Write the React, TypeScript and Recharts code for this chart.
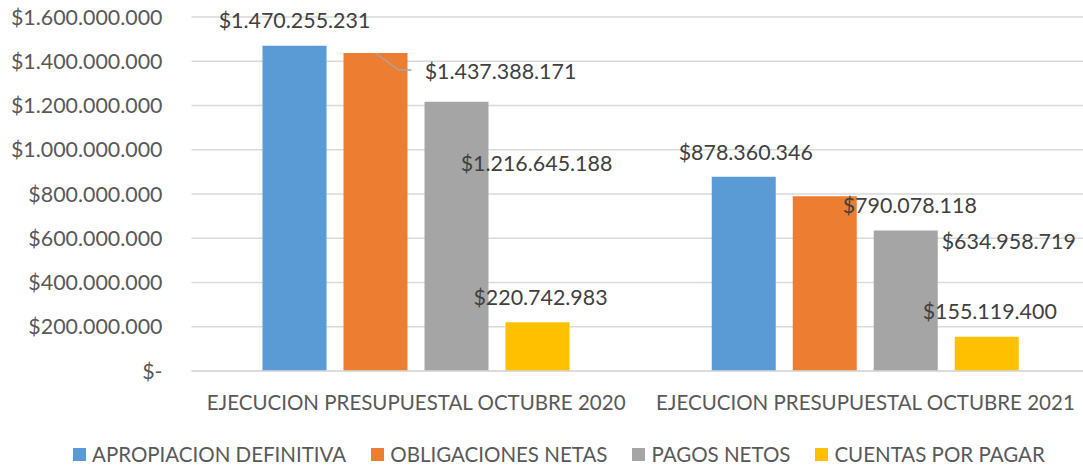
import React from "react";
import { BarChart, Bar, XAxis, YAxis, CartesianGrid, Legend, LabelList } from "recharts";

const categories = ["EJECUCION PRESUPUESTAL OCTUBRE 2020", "EJECUCION PRESUPUESTAL OCTUBRE 2021"];
const apropiacion = [1470255231, 878360346];
const obligaciones = [1437388171, 790078118];
const pagos = [1216645188, 634958719];
const cuentas = [220742983, 155119400];
const yTicks = [0, 200000000, 400000000, 600000000, 800000000, 1000000000, 1200000000, 1400000000, 1600000000];

const seriesNames = ["APROPIACION DEFINITIVA", "OBLIGACIONES NETAS", "PAGOS NETOS", "CUENTAS POR PAGAR"];
const seriesKeys = ["apropiacion", "obligaciones", "pagos", "cuentas"];
const seriesColors = ["#5B9BD5", "#ED7D31", "#A5A5A5", "#FFC000"];

// label offsets (dx from bar centre, dy from bar top) per series, per category
const labelOffsets = [
  [[0, -26], [2, -25]],
  [[125, 18], [85, 9]],
  [[80, 61], [103, 10]],
  [[3, -25], [3, -26]],
];
const leaderLines = [
  [false, false],
  [true, false],
  [false, false],
  [false, false],
];

const data = categories.map((c, i) => ({
  name: c,
  apropiacion: apropiacion[i],
  obligaciones: obligaciones[i],
  pagos: pagos[i],
  cuentas: cuentas[i],
}));

const FONT = "Lato, 'Noto Sans', sans-serif";
const NUM_SIZE = 21.4;
const TXT_SIZE = 20.5;
const fmt = (n: number) => String(Math.round(n)).replace(/\B(?=(\d{3})+(?!\d))/g, ".");
const yFmt = (v: number) => (v === 0 ? "$-" : "$" + fmt(v));

const makeLabel = (si: number) => (props: any) => {
  const { x, y, width, value, index } = props;
  const [dx, dy] = labelOffsets[si][index];
  const cx = Number(x) + Number(width) / 2;
  const top = Number(y);
  const tx = cx + dx;
  const ty = top + dy;
  return (
    <g>
      {leaderLines[si][index] && (
        <polyline
          points={`${cx},${top} ${cx + 23},${top + 17} ${cx + 36},${top + 17}`}
          fill="none"
          stroke="#A6A6A6"
          strokeWidth={1.3}
        />
      )}
      <text
        x={tx}
        y={ty}
        textAnchor="middle"
        dominantBaseline="central"
        fill="#404040"
        fontSize={NUM_SIZE}
        fontFamily={FONT}
      >
        {"$" + fmt(Number(value))}
      </text>
    </g>
  );
};

const LegendContent = () => (
  <div
    style={{
      height: 40,
      display: "flex",
      alignItems: "center",
      paddingTop: 14,
      boxSizing: "border-box",
      paddingLeft: 73,
      fontFamily: FONT,
      fontSize: TXT_SIZE,
      color: "#595959",
    }}
  >
    {seriesNames.map((n, i) => (
      <div key={n} style={{ display: "flex", alignItems: "center", marginRight: 25 }}>
        <div style={{ width: 13, height: 13, background: seriesColors[i], marginRight: 6 }} />
        <span style={{ whiteSpace: "nowrap" }}>{n}</span>
      </div>
    ))}
  </div>
);

export default function App() {
  return (
    <div style={{ position: "absolute", left: 0, top: 0, width: 1083, height: 467, overflow: "hidden", background: "#fff" }}>
      <BarChart
        width={1090}
        height={467}
        data={data}
        margin={{ top: 17, right: 0, left: 0, bottom: 0 }}
        barGap={17}
        barCategoryGap={71}
      >
        <CartesianGrid vertical={false} stroke="#D9D9D9" strokeWidth={1.3} />
        <XAxis
          dataKey="name"
          height={56}
          tickLine={false}
          axisLine={{ stroke: "#D9D9D9", strokeWidth: 1.3 }}
          tickSize={0}
          tickMargin={24}
          tick={{ fill: "#595959", fontSize: TXT_SIZE, fontFamily: FONT }}
          interval={0}
        />
        <YAxis
          width={191.5}
          domain={[0, 1600000000]}
          ticks={yTicks}
          tickFormatter={yFmt}
          tickLine={false}
          axisLine={false}
          tickSize={0}
          tickMargin={29}
          tick={{ fill: "#595959", fontSize: NUM_SIZE, fontFamily: FONT }}
        />
        <Legend verticalAlign="bottom" align="left" content={<LegendContent />} wrapperStyle={{ width: 1083, left: 0 }} />
        {seriesKeys.map((k, i) => (
          <Bar key={k} dataKey={k} name={seriesNames[i]} fill={seriesColors[i]} isAnimationActive={false}>
            <LabelList dataKey={k} content={makeLabel(i)} />
          </Bar>
        ))}
      </BarChart>
    </div>
  );
}
